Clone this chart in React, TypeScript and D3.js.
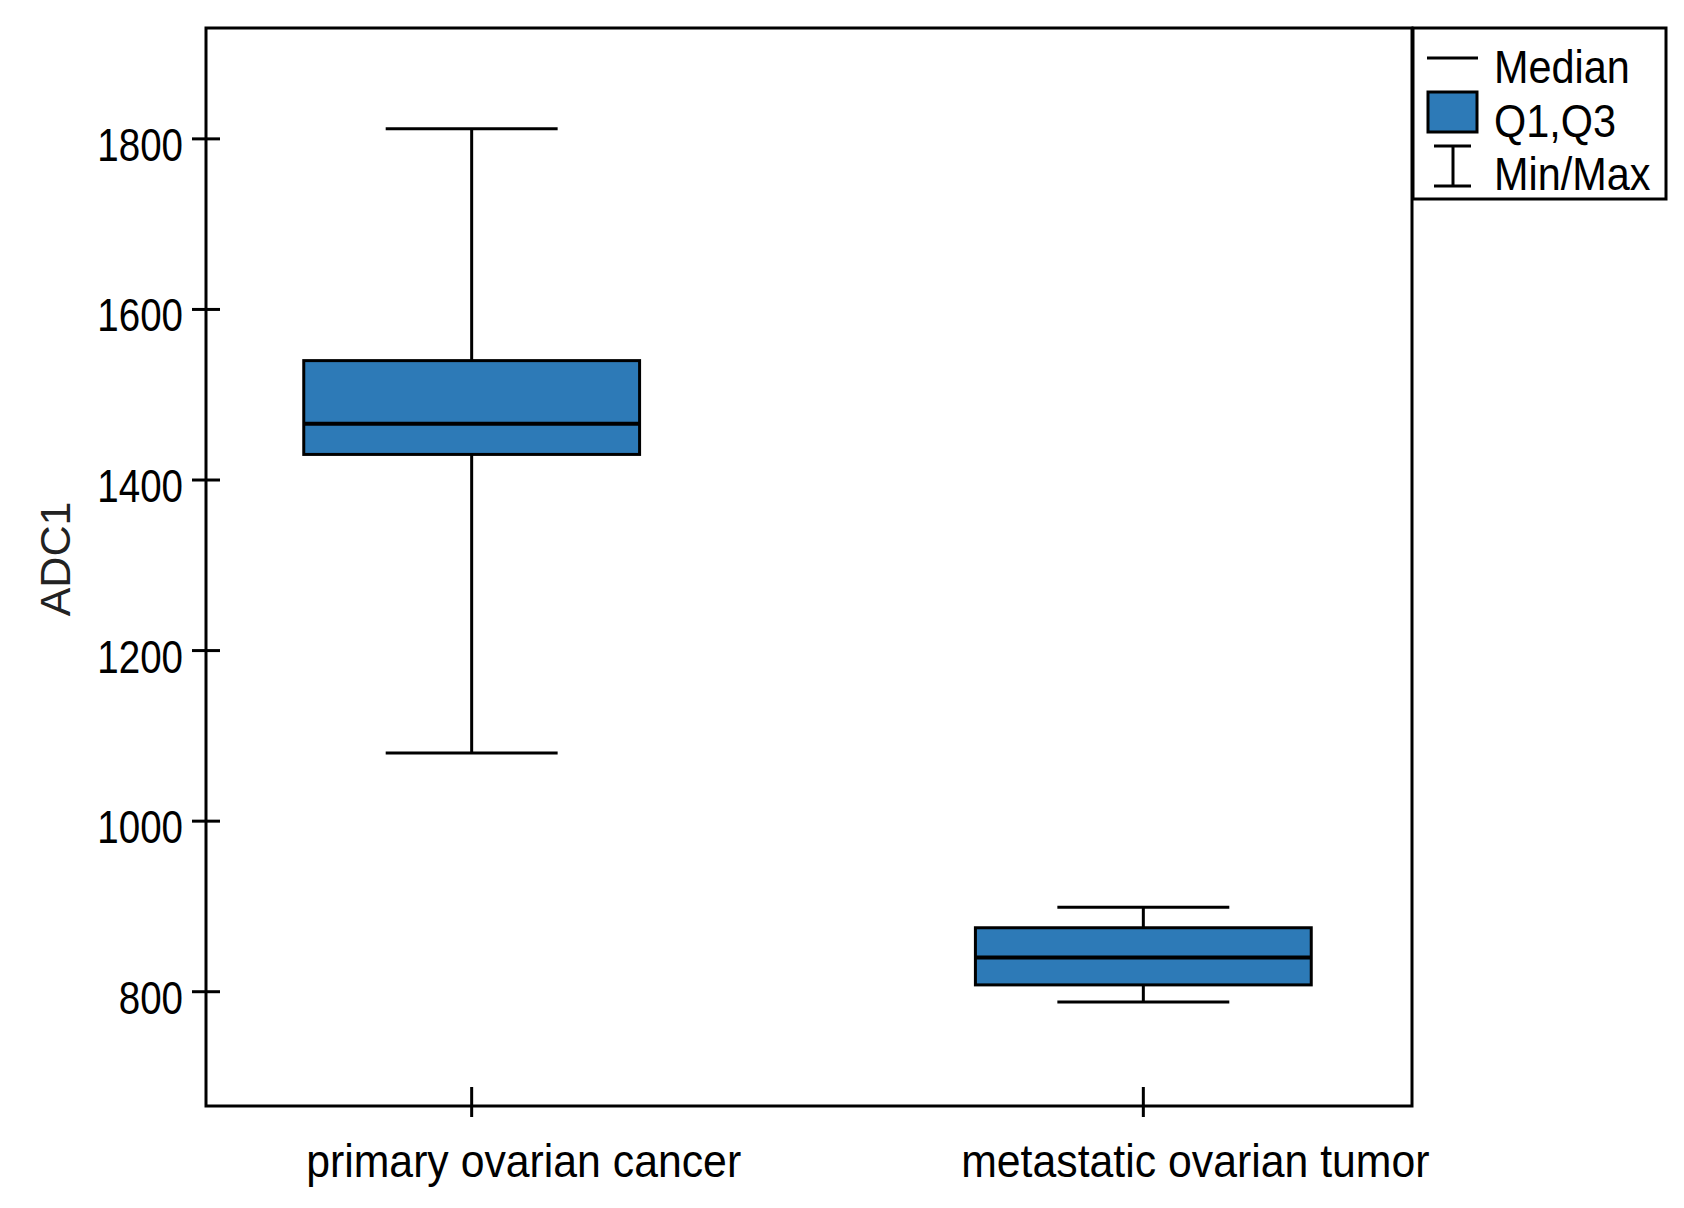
import React from "react";
import * as d3 from "d3";

const categories = ["primary ovarian cancer", "metastatic ovarian tumor"];
const minValues = [1080, 788];
const q1Values = [1430, 808];
const medianValues = [1466, 840];
const q3Values = [1540, 875];
const maxValues = [1812, 899];
const yTicks = [800, 1000, 1200, 1400, 1600, 1800];
const legendLabels = ["Median", "Q1,Q3", "Min/Max"];
const yTitle = "ADC1";

const W = 1684;
const H = 1208;
const plot = { left: 206, right: 1412, top: 28, bottom: 1106 };
const FILL = "#2d7ab7";
const FONT = "'Liberation Sans', Arial, sans-serif";

export default function App() {
  const y = d3.scaleLinear().domain([666, 1930]).range([plot.bottom, plot.top]);
  const x = d3.scalePoint<string>().domain(categories).range([plot.left - 3, plot.right]).padding(0.4);
  const step = x.step();
  const boxW = step * 0.5;
  const capW = step * 0.256;

  const data = categories.map((c, i) => ({
    c,
    min: minValues[i],
    q1: q1Values[i],
    med: medianValues[i],
    q3: q3Values[i],
    max: maxValues[i],
  }));

  const legX = 1413;
  const legY = 28;
  const legW = 253;
  const legH = 171;

  return (
    <div style={{ position: "absolute", left: 0, top: 0, width: W, height: H, background: "#fff" }}>
      <svg width={W} height={H} style={{ display: "block" }}>
        <rect x={0} y={0} width={W} height={H} fill="#fff" />
        {data.map((d) => {
          const cx = x(d.c) as number;
          return (
            <g key={d.c}>
              <line x1={cx} x2={cx} y1={y(d.max)} y2={y(d.min)} stroke="#000" strokeWidth={3} />
              <line x1={cx - capW / 2} x2={cx + capW / 2} y1={y(d.max)} y2={y(d.max)} stroke="#000" strokeWidth={3} />
              <line x1={cx - capW / 2} x2={cx + capW / 2} y1={y(d.min)} y2={y(d.min)} stroke="#000" strokeWidth={3} />
              <rect
                x={cx - boxW / 2}
                y={y(d.q3)}
                width={boxW}
                height={y(d.q1) - y(d.q3)}
                fill={FILL}
                stroke="#000"
                strokeWidth={3}
              />
              <line x1={cx - boxW / 2} x2={cx + boxW / 2} y1={y(d.med)} y2={y(d.med)} stroke="#000" strokeWidth={4} />
            </g>
          );
        })}
        <rect
          x={plot.left}
          y={plot.top}
          width={plot.right - plot.left}
          height={plot.bottom - plot.top}
          fill="none"
          stroke="#000"
          strokeWidth={3}
        />
        {yTicks.map((t) => (
          <g key={t}>
            <line x1={plot.left - 14} x2={plot.left + 14} y1={y(t)} y2={y(t)} stroke="#000" strokeWidth={3} />
            <text
              transform={`translate(183, ${y(t) + 22}) scale(0.82, 1)`}
              textAnchor="end"
              fontFamily={FONT}
              fontSize={47}
              fill="#000"
            >
              {t}
            </text>
          </g>
        ))}
        {categories.map((c) => {
          const cx = x(c) as number;
          return (
            <g key={c}>
              <line x1={cx} x2={cx} y1={plot.bottom - 19} y2={plot.bottom + 11} stroke="#000" strokeWidth={3} />
              <text
                transform={`translate(${cx + 52}, 1177) scale(0.93, 1)`}
                textAnchor="middle"
                fontFamily={FONT}
                fontSize={46}
                fill="#000"
              >
                {c}
              </text>
            </g>
          );
        })}
        <text
          transform={`translate(70, 559) rotate(-90)`}
          textAnchor="middle"
          fontFamily={FONT}
          fontSize={43}
          fill="#222"
        >
          {yTitle}
        </text>
        <rect x={legX} y={legY} width={legW} height={legH} fill="#fff" stroke="#000" strokeWidth={3} />
        <line x1={1427} x2={1478} y1={58} y2={58} stroke="#000" strokeWidth={3} />
        <rect x={1428} y={92} width={49} height={40} fill={FILL} stroke="#000" strokeWidth={3} />
        <line x1={1453} x2={1453} y1={146} y2={186} stroke="#000" strokeWidth={3} />
        <line x1={1434} x2={1471} y1={146} y2={146} stroke="#000" strokeWidth={3} />
        <line x1={1434} x2={1471} y1={186} y2={186} stroke="#000" strokeWidth={3} />
        {legendLabels.map((l, i) => (
          <text
            key={l}
            transform={`translate(1494, ${83 + i * 53.5}) scale(0.9, 1)`}
            fontFamily={FONT}
            fontSize={46}
            fill="#000"
          >
            {l}
          </text>
        ))}
      </svg>
    </div>
  );
}
